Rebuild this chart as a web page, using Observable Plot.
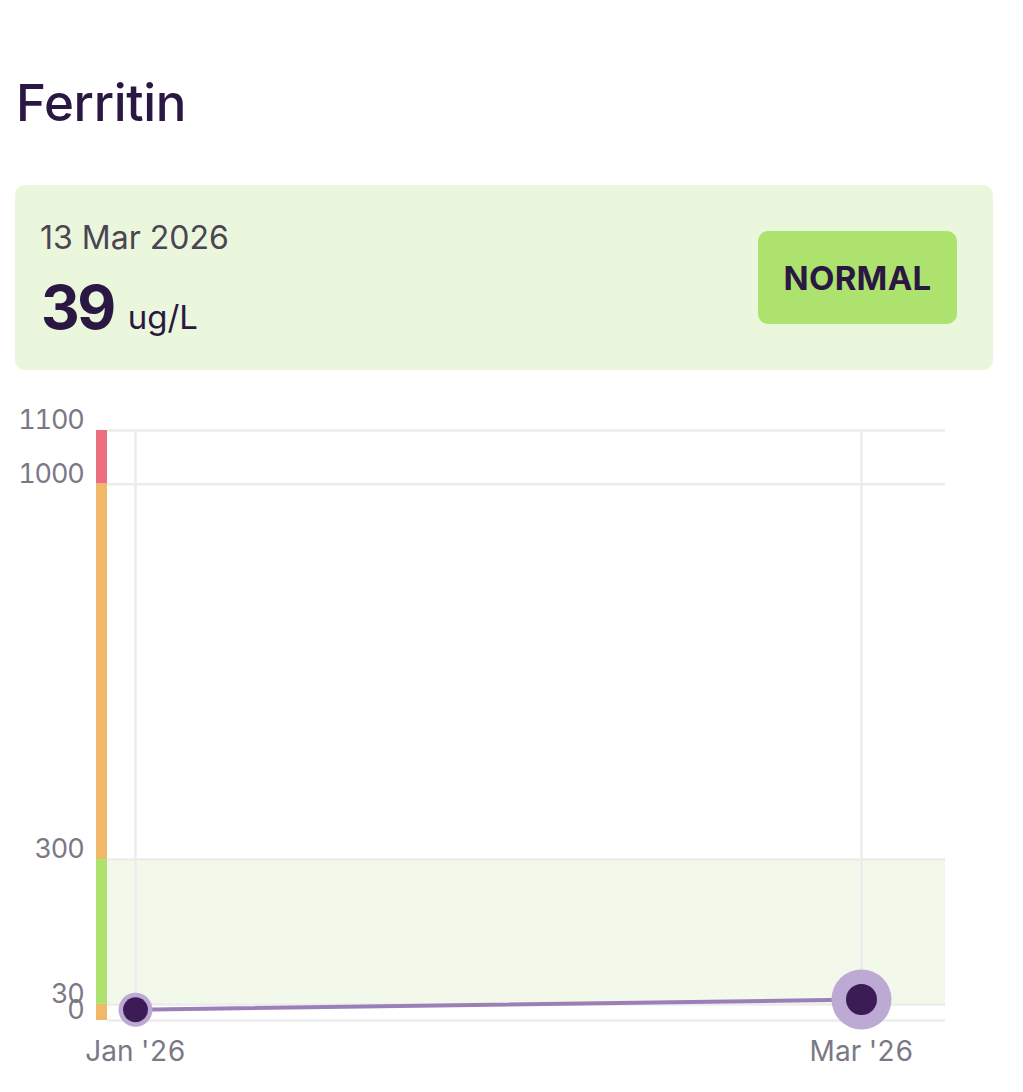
<!DOCTYPE html>
<html>
<head>
<meta charset="utf-8">
<script src="https://cdn.jsdelivr.net/npm/d3@7"></script>
<script src="https://cdn.jsdelivr.net/npm/@observablehq/plot@0.6"></script>
<style>
  html, body { margin: 0; padding: 0; background: #fff; }
  body { width: 1023px; height: 1092px; position: relative; font-family: Inter, "Noto Sans", sans-serif; overflow: hidden; }
  #title { position: absolute; left: 16px; top: 77px; font-size: 51px; font-weight: 500; color: #2a1842; letter-spacing: -0.3px; line-height: 1; }
  #card { position: absolute; left: 15px; top: 185px; width: 978px; height: 185px; background: #eaf7dc; border-radius: 10px; }
  #date { position: absolute; left: 25px; top: 37px; font-size: 32px; color: #4b4553; line-height: 1; letter-spacing: 0px; }
  #value { position: absolute; left: 26px; top: 92px; color: #2a1842; line-height: 1; white-space: nowrap; }
  #value .num { font-size: 60px; font-weight: 700; letter-spacing: -2.5px; }
  #value .unit { font-size: 33px; font-weight: 400; margin-left: 14px; }
  #badge { position: absolute; left: 743px; top: 46px; width: 199px; height: 93px; background: #aee26e; border-radius: 10px; display: flex; align-items: center; justify-content: center; font-size: 33px; font-weight: 700; color: #2a1842; letter-spacing: 0.3px; }
  #chart { position: absolute; left: 0; top: 390px; }
  #chart g[aria-label="y-axis tick label"] text { letter-spacing: -1.2px; }
</style>
</head>
<body>
<div id="title">Ferritin</div>
<div id="card">
  <div id="date"></div>
  <div id="value"><span class="num"></span><span class="unit"></span></div>
  <div id="badge"></div>
</div>
<div id="chart"></div>
<script>
// ---- data ----
const testName = "Ferritin";
const unit = "ug/L";
const status = "NORMAL";
const dates = ["2026-01-15", "2026-03-13"];
const values = [20, 39];
const yTicks = [0, 30, 300, 1000, 1100];
const bandLows = [1000, 300, 30, 0];
const bandHighs = [1100, 1000, 300, 30];
const bandStatus = ["high", "elevated", "normal", "low"];
const normalLow = 30;
const normalHigh = 300;

// ---- build ----
const parse = d3.utcParse("%Y-%m-%d");
const data = dates.map((d, i) => ({date: parse(d), value: values[i]}));
const bands = bandLows.map((lo, i) => ({lo, hi: bandHighs[i], status: bandStatus[i]}));
const statusColor = {high: "#ec6f7f", elevated: "#f0b96a", normal: "#aee26e", low: "#f0b96a"};
const last = data[data.length - 1];

document.getElementById("date").textContent = d3.utcFormat("%-d %b %Y")(last.date);
document.querySelector("#value .num").textContent = last.value;
document.querySelector("#value .unit").textContent = unit;
document.getElementById("badge").textContent = status;

const width = 1023, height = 690;
const marginLeft = 96, marginRight = 78, marginTop = 40, marginBottom = 60;
const barW = 11;
const frameW = width - marginLeft - marginRight;
const grid = "#ececee";

const plot = Plot.plot({
  width, height, marginLeft, marginRight, marginTop, marginBottom,
  style: {fontFamily: "Inter, 'Noto Sans', sans-serif", fontSize: "27px", color: "#7b7886", background: "transparent"},
  x: {type: "utc", domain: d3.extent(data, d => d.date), insetLeft: 39, insetRight: 84},
  y: {domain: [0, 1100]},
  marks: [
    Plot.rect([{y1: normalLow, y2: normalHigh}], {y1: "y1", y2: "y2", fill: "#f3f9ea", insetLeft: barW}),
    Plot.ruleY(yTicks, {stroke: grid, strokeWidth: 2.5, insetLeft: barW}),
    Plot.ruleX(data, {x: "date", y1: 0, y2: 1100, stroke: grid, strokeWidth: 2.5}),
    Plot.rect(bands, {y1: "lo", y2: "hi", fill: d => statusColor[d.status], insetRight: frameW - barW}),
    Plot.axisY({ticks: yTicks, tickSize: 0, tickPadding: 13, dy: -10, tickFormat: d => String(d), fill: "#7b7886"}),
    Plot.axisX({ticks: data.map(d => d.date), tickSize: 0, tickPadding: 21, tickFormat: d3.utcFormat("%b '%y"), fill: "#7b7886", fontSize: 28}),
    Plot.line(data, {x: "date", y: "value", stroke: "#9b80b8", strokeWidth: 4}),
    Plot.dot(data.slice(0, -1), {x: "date", y: "value", r: 17, fill: "#bca9d4"}),
    Plot.dot(data.slice(0, -1), {x: "date", y: "value", r: 12.5, fill: "#3b1c55"}),
    Plot.dot(data.slice(-1), {x: "date", y: "value", r: 30, fill: "#bca9d4"}),
    Plot.dot(data.slice(-1), {x: "date", y: "value", r: 15.5, fill: "#3b1c55"})
  ]
});
document.getElementById("chart").appendChild(plot);
</script>
</body>
</html>
